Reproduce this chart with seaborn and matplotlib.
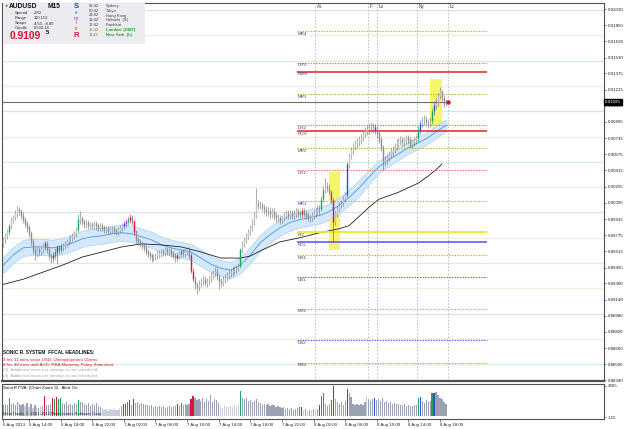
import numpy as np
import seaborn as sns
import matplotlib.pyplot as plt
import matplotlib.transforms as mtransforms
from matplotlib.patches import Rectangle

sns.set_theme(style="white")
plt.rcParams['font.family'] = ['Liberation Sans', 'DejaVu Sans']

W, H = 625, 429

# AUDUSD M15, bars from 6 Aug 10:45, prices in pips above 0.8800
opens = [
    170, 173, 177, 181, 187, 193, 195, 199, 203, 201,
    197, 193, 189, 185, 179, 171, 163, 159, 163, 161,
    163, 167, 169, 163, 157, 155, 157, 161, 165, 163,
    166, 167, 169, 171, 173, 175, 177, 179, 183, 193,
    194, 191, 189, 190, 187, 188, 187, 189, 187, 185,
    187, 185, 183, 184, 182, 183, 184, 182, 181, 183,
    185, 187, 189, 191, 193, 195, 191, 181, 173, 171,
    169, 167, 165, 161, 159, 157, 155, 156, 157, 158,
    159, 161, 160, 163, 161, 162, 159, 157, 155, 157,
    159, 161, 159, 161, 163, 157, 142, 134, 128, 126,
    130, 132, 134, 130, 132, 134, 138, 140, 142, 136,
    132, 130, 134, 136, 138, 140, 141, 143, 144, 145,
    147, 163, 169, 173, 177, 181, 185, 191, 197, 209,
    207, 207, 205, 203, 201, 201, 199, 201, 197, 195,
    195, 193, 195, 197, 199, 197, 199, 197, 199, 201,
    199, 199, 201, 199, 197, 195, 195, 197, 199, 201,
    203, 203, 213, 222, 226, 224, 220, 212, 191, 199,
    203, 207, 209, 213, 217, 247, 256, 262, 266, 268,
    270, 272, 274, 278, 281, 282, 284, 285, 284, 282,
    278, 272, 264, 250, 252, 254, 257, 260, 262, 265,
    269, 271, 272, 270, 272, 274, 272, 268, 270, 272,
    274, 282, 288, 290, 292, 289, 288, 290, 300, 306,
    308, 315, 319, 313, 307]
highs = [
    176, 180, 184, 189, 196, 198, 202, 206, 205, 203,
    200, 196, 192, 188, 182, 174, 166, 166, 166, 166,
    170, 172, 172, 166, 160, 161, 165, 168, 168, 170,
    170, 172, 174, 176, 178, 180, 182, 186, 199, 201,
    197, 194, 193, 193, 191, 191, 192, 192, 190, 190,
    190, 188, 187, 187, 186, 187, 187, 185, 186, 188,
    190, 192, 194, 197, 199, 198, 193, 183, 176, 174,
    172, 170, 168, 164, 162, 160, 159, 160, 162, 163,
    164, 164, 166, 166, 165, 165, 162, 160, 160, 162,
    164, 164, 164, 166, 166, 160, 145, 137, 131, 133,
    135, 137, 137, 135, 137, 141, 143, 146, 145, 139,
    135, 137, 139, 141, 143, 144, 146, 147, 148, 150,
    165, 172, 176, 180, 184, 188, 194, 200, 224, 212,
    211, 210, 208, 206, 205, 205, 204, 204, 200, 199,
    198, 198, 200, 202, 202, 202, 202, 202, 204, 204,
    202, 204, 204, 202, 200, 198, 200, 202, 204, 207,
    207, 216, 226, 234, 230, 228, 222, 214, 201, 206,
    210, 212, 216, 220, 250, 259, 265, 269, 272, 274,
    276, 278, 281, 284, 286, 287, 288, 288, 287, 285,
    281, 275, 267, 256, 258, 261, 264, 266, 269, 273,
    274, 276, 275, 275, 277, 277, 275, 273, 275, 277,
    285, 291, 294, 296, 295, 292, 294, 303, 310, 313,
    318, 324, 321, 316, 312]
lows = [
    166, 170, 174, 178, 184, 190, 193, 196, 198, 194,
    190, 186, 181, 176, 168, 159, 153, 156, 157, 158,
    160, 163, 160, 153, 150, 151, 153, 149, 159, 160,
    162, 164, 166, 168, 170, 172, 174, 176, 181, 189,
    188, 185, 185, 184, 184, 184, 184, 183, 182, 182,
    182, 180, 180, 179, 179, 180, 179, 178, 178, 180,
    182, 184, 186, 188, 190, 188, 178, 170, 168, 166,
    164, 162, 158, 156, 153, 151, 152, 153, 154, 155,
    156, 157, 157, 158, 158, 156, 154, 151, 152, 154,
    156, 156, 156, 158, 154, 140, 131, 124, 119, 122,
    126, 128, 127, 126, 128, 131, 134, 136, 133, 124,
    126, 127, 130, 132, 134, 136, 137, 139, 140, 142,
    145, 160, 166, 170, 174, 178, 182, 188, 195, 203,
    203, 201, 199, 197, 197, 195, 195, 193, 191, 191,
    189, 190, 192, 194, 194, 194, 194, 194, 196, 196,
    195, 196, 196, 194, 192, 191, 192, 194, 196, 198,
    199, 201, 210, 219, 220, 217, 209, 171, 188, 196,
    200, 204, 206, 210, 215, 244, 253, 258, 262, 264,
    266, 268, 271, 275, 277, 278, 280, 280, 278, 274,
    269, 261, 242, 246, 248, 251, 254, 256, 259, 262,
    265, 267, 266, 266, 268, 268, 264, 264, 266, 268,
    270, 278, 284, 286, 285, 283, 284, 287, 296, 302,
    305, 312, 310, 304, 305]
closes = [
    173, 177, 181, 187, 193, 195, 199, 203, 201, 197,
    193, 189, 185, 179, 171, 163, 159, 163, 161, 163,
    167, 169, 163, 157, 155, 157, 161, 165, 163, 166,
    167, 169, 171, 173, 175, 177, 179, 183, 193, 194,
    191, 189, 190, 187, 188, 187, 189, 187, 185, 187,
    185, 183, 184, 182, 183, 184, 182, 181, 183, 185,
    187, 189, 191, 193, 195, 191, 181, 173, 171, 169,
    167, 165, 161, 159, 157, 155, 156, 157, 158, 159,
    161, 160, 163, 161, 162, 159, 157, 155, 157, 159,
    161, 159, 161, 163, 157, 142, 134, 128, 126, 130,
    132, 134, 130, 132, 134, 138, 140, 142, 136, 132,
    130, 134, 136, 138, 140, 141, 143, 144, 145, 147,
    163, 169, 173, 177, 181, 185, 191, 197, 209, 207,
    207, 205, 203, 201, 201, 199, 201, 197, 195, 195,
    193, 195, 197, 199, 197, 199, 197, 199, 201, 199,
    199, 201, 199, 197, 195, 195, 197, 199, 201, 203,
    203, 213, 222, 226, 224, 220, 212, 191, 199, 203,
    207, 209, 213, 217, 247, 256, 262, 266, 268, 270,
    272, 274, 278, 281, 282, 284, 285, 284, 282, 278,
    272, 264, 250, 252, 254, 257, 260, 262, 265, 269,
    271, 272, 270, 272, 274, 272, 268, 270, 272, 274,
    282, 288, 290, 292, 289, 288, 290, 300, 306, 308,
    315, 319, 313, 307, 310]
volumes = [
    920, 1000, 860, 1430, 980, 1050, 900, 1120, 970, 860,
    1000, 800, 1080, 720, 950, 660, 880, 740, 620, 800,
    820, 1650, 920, 860, 1000, 1480, 1400, 1520, 1350, 1500,
    1080, 960, 1150, 880, 1000, 920, 1050, 980, 1280, 1100,
    1150, 980, 860, 1030, 800, 960, 900, 1050, 820, 740,
    620, 480, 560, 400, 520, 450, 580, 430, 500, 660,
    800, 950, 1000, 1100, 1280, 920, 1400, 1050, 1150, 980,
    1080, 1000, 920, 860, 800, 920, 740, 820, 700, 780,
    700, 800, 660, 740, 820, 700, 780, 840, 980, 820,
    1050, 920, 980, 880, 1000, 1350, 1600, 1450, 1300, 1380,
    1200, 1500, 1100, 1350, 1250, 1700, 1150, 1400, 1300, 1080,
    780, 660, 820, 700, 750, 800, 680, 860, 740, 920,
    2050, 1500, 1350, 1450, 1200, 1300, 1100, 1250, 1400, 1150,
    1050, 920, 1000, 880, 960, 800, 860, 920, 740, 820,
    740, 620, 700, 580, 660, 520, 600, 480, 550, 620,
    750, 700, 480, 550, 420, 500, 450, 520, 480, 560,
    850, 1600, 1850, 1000, 800, 950, 1290, 2465, 1400, 1150,
    1000, 1100, 920, 1200, 2200, 1850, 1550, 950, 860, 1000,
    900, 980, 860, 1100, 1620, 1400, 1250, 1350, 1450, 1300,
    1400, 1250, 1450, 1100, 1200, 1050, 1150, 1000, 1080, 970,
    1000, 920, 860, 950, 800, 880, 760, 840, 920, 860,
    1450, 1530, 1200, 1050, 1300, 1150, 1250, 1900, 1900, 1980,
    1700, 1500, 1350, 1150, 1000]

# SonicR PVA candle classes (G climax up, R climax down, B/M rising)
pva_marks = {3: 'G', 21: 'R', 25: 'R', 26: 'G', 27: 'R', 28: 'G', 29: 'G', 38: 'G',
             61: 'B', 62: 'M', 63: 'G', 64: 'R', 66: 'R', 88: 'R', 90: 'G', 95: 'R',
             96: 'R', 120: 'G', 150: 'G', 151: 'R', 160: 'B', 161: 'G', 162: 'G',
             166: 'M', 167: 'R', 174: 'B', 188: 'B', 210: 'G', 211: 'B', 217: 'G', 218: 'B'}
pva_light = [11, 13, 15, 17, 19, 50, 51, 52, 53, 54, 55, 56, 57, 58, 59,
             110, 111, 112, 113, 114, 115, 116, 117, 118, 119, 152, 154, 156, 158, 184]

# dragon band and slow MA (pips above 0.8800)
dragon_bars = [0, 5, 10, 15, 20, 25, 30, 35, 40, 45, 50, 55, 60, 65, 70, 75, 80, 85, 90, 95,
               100, 105, 110, 115, 120, 125, 130, 135, 140, 145, 150, 155, 160, 165, 170,
               175, 180, 185, 190, 195, 200, 205, 210, 215, 220, 224]
dragon_mid = [148, 158, 165, 166, 166, 165, 167, 170, 174, 176, 177, 179, 180, 179, 176, 173,
              168, 165, 163, 161, 155, 149, 145, 143, 148, 158, 170, 178, 185, 190, 193, 195,
              197, 201, 207, 215, 224, 235, 245, 252, 258, 264, 269, 274, 281, 286]
dragon_up = [156, 166, 173, 174, 174, 173, 175, 178, 182, 184, 185, 187, 188, 187, 184, 181,
             176, 173, 171, 169, 163, 157, 153, 151, 156, 166, 178, 186, 193, 198, 201, 203,
             205, 209, 215, 223, 232, 242, 251, 258, 264, 270, 275, 280, 287, 292]
dragon_lo = [140, 150, 157, 158, 158, 157, 159, 162, 166, 168, 169, 171, 172, 171, 168, 165,
             160, 157, 155, 153, 147, 141, 137, 135, 140, 150, 162, 170, 177, 182, 185, 187,
             189, 193, 199, 207, 216, 228, 239, 246, 252, 258, 263, 268, 275, 280]
ma_bars = [0, 10, 20, 30, 40, 50, 60, 70, 80, 90, 100, 110, 120, 125, 130, 140, 150, 160,
           170, 175, 180, 185, 190, 200, 210, 215, 220, 222]
ma_vals = [129, 134, 141, 148, 156, 161, 166, 169, 168, 166, 161, 155, 155, 157, 162, 171,
           175, 180, 184, 187, 196, 205, 213, 220, 229, 236, 244, 248]

# daily pivot levels (price)
level_names = ["MR4", "DR3", "RWH", "MR3", "DR2", "RDH", "MR2", "DR1", "MR1", "PIV",
               "RDL", "MS1", "DS1", "MS2", "DS2", "MS3"]
level_prices = [0.91794, 0.91481, 0.91392, 0.91172, 0.90863, 0.90807, 0.90636, 0.90415,
                0.90116, 0.89803, 0.89709, 0.89580, 0.89359, 0.89050, 0.88737, 0.88517]
round_100 = [0.9200, 0.9100, 0.9000, 0.8900]
round_50 = [0.9150, 0.9050, 0.8950, 0.8850]
round_25 = [0.9175, 0.9125, 0.9075, 0.9025, 0.8975, 0.8925, 0.8875]

bid = 0.91095
price_ticks = [0.92010, 0.91850, 0.91690, 0.91530, 0.91375, 0.91215, 0.91055, 0.90895,
               0.90735, 0.90575, 0.90415, 0.90255, 0.90095, 0.89935, 0.89775, 0.89615,
               0.89455, 0.89300, 0.89140, 0.88980, 0.88820, 0.88660, 0.88500, 0.88340]
time_ticks = [0, 13, 29, 45, 61, 77, 93, 109, 125, 141, 157, 173, 189, 205, 221]
time_labels = ["6 Aug 2013", "6 Aug 14:00", "6 Aug 18:00", "6 Aug 22:00", "7 Aug 02:00",
               "7 Aug 06:00", "7 Aug 10:00", "7 Aug 14:00", "7 Aug 18:00", "7 Aug 22:00",
               "8 Aug 02:00", "8 Aug 06:00", "8 Aug 10:00", "8 Aug 14:00", "8 Aug 18:00"]
session_names = ["As", "F", "Lo", "Ny", "Lc"]
session_bars = [157.7, 184.6, 189.1, 209.4, 225.0]
highlight_spans = [(164.8, 170.4, 163, 240), (216.0, 222.0, 285, 332)]


def px(v):
    return 0.88 + np.asarray(v, dtype=float) / 10000.0


n = len(closes)
x = np.arange(n)
o, h, l, c = px(opens), px(highs), px(lows), px(closes)

pva_col = {'G': '#1ea55a', 'R': '#e0113c', 'B': '#2f4fe0', 'M': '#c81ee0'}
vol_col = {'n': '#9aa3b3', 'l': '#c9cfd8'}
cls = ['n'] * n
for i in pva_light:
    cls[i] = 'l'
for i, k in pva_marks.items():
    cls[i] = k

fig = plt.figure(figsize=(W / 100, H / 100), dpi=100)
fig.patch.set_facecolor('white')
ax = fig.add_axes([2 / W, 1 - 381 / H, 602 / W, 378 / H])
axv = fig.add_axes([2 / W, 1 - 419 / H, 602 / W, 35 / H])
xlim = (-0.66, 304.0)

# background round-number lines
for v in round_100:
    ax.axhline(v, color='#dedef6', lw=0.9, zorder=1)
for v in round_50:
    ax.axhline(v, color='#d6f2d6', lw=0.9, zorder=1)
for v in round_25:
    ax.axhline(v, color='#f1eedc', lw=0.9, zorder=1)

# yellow highlight boxes
for x0, x1, y0, y1 in highlight_spans:
    ax.add_patch(Rectangle((x0, px(y0)), x1 - x0, px(y1) - px(y0),
                           facecolor='#f7f56a', edgecolor='none', zorder=1.5))

# session separators
for name, b in zip(session_names, session_bars):
    ax.axvline(b, color='#b4b4b4', lw=0.6, ls=(0, (2, 2)), zorder=1.2)
    ax.text(b + 1, 0.9204, name, fontsize=3.3, color='#303060', va='center', ha='left')

# pivot levels
lv_style = {
    'MR': dict(color='#b4b43c', lw=0.8, ls=(0, (1.2, 1.2))),
    'MS': dict(color='#b4b43c', lw=0.8, ls=(0, (1.2, 1.2))),
    'DR': dict(color='#ff6a6a', lw=0.8, ls=(0, (1.2, 1.2))),
    'DS': dict(color='#5a5aff', lw=0.8, ls=(0, (1.2, 1.2))),
    'RWH': dict(color='#e63232', lw=1.2, ls='-'),
    'RDH': dict(color='#e63232', lw=1.2, ls='-'),
    'PIV': dict(color='#eeea22', lw=1.3, ls='-'),
    'RDL': dict(color='#6a6aff', lw=1.3, ls='-'),
}
for name, v in zip(level_names, level_prices):
    st = lv_style.get(name, lv_style.get(name[:2]))
    ax.hlines(v, 148.5, 245, zorder=2.5, **st)
    ax.text(149.2, v - 0.00008, name, fontsize=3.2, color='#404078', va='top', ha='left',
            zorder=6)

# dragon band + slow MA
ax.fill_between(dragon_bars, px(dragon_lo), px(dragon_up), color='#d3e8fb',
                edgecolor='#a9d2f4', lw=0.5, zorder=2)
sns.lineplot(x=dragon_bars, y=px(dragon_mid), ax=ax, color='#4a96e6', lw=0.6, zorder=2.2)
sns.lineplot(x=ma_bars, y=px(ma_vals), ax=ax, color='#202020', lw=0.6, zorder=2.3)

# candles
body_cols, wick_cols = [], []
for i in range(n):
    k = cls[i]
    if k in pva_col:
        body_cols.append(pva_col[k])
        wick_cols.append(pva_col[k])
    else:
        body_cols.append('#c4c4c4' if c[i] >= o[i] else '#8c8c8c')
        wick_cols.append('#6a6a6a')
ax.vlines(x, l, h, colors=wick_cols, lw=0.4, zorder=4)
ax.vlines(x, np.minimum(o, c), np.maximum(o, c) + 0.00006, colors=body_cols, lw=1.0, zorder=4.5)

# bid line, marker and price box
ax.hlines(bid, xlim[0], n - 0.5, color='#6e6e6e', lw=0.8, zorder=3)
ax.plot([n], [bid], 'o', color='#e0102a', ms=2.2, zorder=6)

ax.set_xlim(*xlim)
ax.set_ylim(0.88335, 0.92070)
ax.yaxis.tick_right()
ax.set_yticks(price_ticks)
ax.set_yticklabels([f"{v:.5f}" for v in price_ticks])
ax.tick_params(axis='y', labelsize=3.2, length=1.5, width=0.4, pad=1, colors='#202020',
               direction='out', right=True)
ax.set_xticks([])
for s in ax.spines.values():
    s.set_color('#505050')
    s.set_linewidth(0.8)
ax.spines['bottom'].set_linewidth(1.6)
tr = mtransforms.blended_transform_factory(ax.transAxes, ax.transData)
ax.text(1.002, bid, "0.91095", transform=tr, fontsize=3.2, color='white', va='center',
        ha='left', zorder=10,
        bbox=dict(boxstyle='square,pad=0.25', facecolor='black', edgecolor='black'))

# PVA volume panel
vcols = [pva_col.get(k, vol_col.get(k)) for k in cls]
axv.bar(x, volumes, width=0.6, color=vcols, linewidth=0)
axv.set_xlim(*xlim)
axv.set_ylim(-281, 2631)
axv.yaxis.tick_right()
axv.set_yticks([2465, -115])
axv.set_yticklabels(["2465", "-115"])
axv.tick_params(axis='y', labelsize=3.2, length=1.5, width=0.4, pad=1)
axv.set_xticks(time_ticks)
axv.set_xticklabels(time_labels, ha='left')
axv.tick_params(axis='x', labelsize=3.2, length=2, width=0.4, pad=0.8, direction='out',
                bottom=True)
for s in axv.spines.values():
    s.set_color('#505050')
    s.set_linewidth(0.8)


def ftxt(xp, yp, s, **kw):
    kw.setdefault('va', 'center')
    kw.setdefault('ha', 'left')
    fig.text(xp / W, 1 - yp / H, s, **kw)


# info box
fig.patches.append(Rectangle((3 / W, 1 - 44 / H), 142 / W, 41 / H, transform=fig.transFigure,
                             facecolor='#ebebf0', edgecolor='none', zorder=5))
ftxt(4, 6, "\u25bc", fontsize=2.5, color='#202020', zorder=6)
ftxt(9, 6.5, "AUDUSD", fontsize=4.8, fontweight='bold', color='#101010', zorder=6)
ftxt(47, 6.5, "M15", fontsize=4.8, fontweight='bold', color='#101010', zorder=6)
info_keys = ["Spread", "Range", "Swaps", "Candle"]
info_vals = ["2.80", "110.153", "4.50, -8.80", "00:02:14"]
for j, (k, v) in enumerate(zip(info_keys, info_vals)):
    ftxt(15, 13.3 + 4.9 * j, k, fontsize=3.0, color='#303030', zorder=6)
    ftxt(34, 13.3 + 4.9 * j, v, fontsize=3.0, color='#303030', zorder=6)
ftxt(10, 36, "0.9109", fontsize=7.4, fontweight='bold', color='#e0103a', zorder=6)
ftxt(45.5, 33, "5", fontsize=4.3, fontweight='bold', color='#101010', zorder=6)
ftxt(76, 6, "S", fontsize=5.5, fontweight='bold', color='#2040e0', ha='center', zorder=6)
for j, (ch, col) in enumerate(zip("emic", ['#6d8be0', '#a070d0', '#e06090', '#e04060'])):
    ftxt(76, 13 + 5 * j, ch, fontsize=3.4, fontweight='bold', color=col, ha='center', zorder=6)
ftxt(76, 35.5, "R", fontsize=5.5, fontweight='bold', color='#e0103a', ha='center', zorder=6)
clock_times = ["01:42", "00:42", "23:42", "18:42", "17:42", "16:42", "11:42"]
clock_names = ["Sydney", "Tokyo", "Hong Kong", "Helsinki  (S)", "Frankfurt", "London  (GMT)",
               "New York  (L)"]
for j, (t, nm) in enumerate(zip(clock_times, clock_names)):
    tc, nc = ('#404040', '#404040') if j < 5 else ('#a07828', '#20a020')
    ftxt(89, 5.7 + 4.9 * j, t, fontsize=3.0, color=tc, zorder=6)
    ftxt(106, 5.7 + 4.9 * j, nm, fontsize=3.0, color=nc, zorder=6,
         fontweight='bold' if j >= 5 else 'normal')

# news headlines
ftxt(3, 353, "SONIC R. SYSTEM  FFCAL HEADLINES:", fontsize=3.4, fontweight='bold',
     color='#101010')
ftxt(3, 359.5, "3 hrs 11 mins since USD: Unemployment Claims", fontsize=3.2,
     color='#e0103a')
ftxt(3, 365, "8 hrs 48 mins until AUD: RBA Monetary Policy Statement", fontsize=3.2,
     color='#e0103a')
ftxt(3, 370.5, "(3)  Additional news per settings is not scheduled", fontsize=3.2,
     color='#a8a8a8')
ftxt(3, 375.5, "(4)  Additional news per settings is not scheduled", fontsize=3.2,
     color='#a8a8a8')
ftxt(3, 388, "SonicR PVA  (Chart Zoom 3)   Alert On", fontsize=3.2, color='#101010')
ftxt(3, 414, "MetaTrader, \u00a9 2001-2013 MetaQuotes Software Corp.", fontsize=3.0,
     color='#303030')

fig.savefig("out.png", dpi=100, facecolor='white')
